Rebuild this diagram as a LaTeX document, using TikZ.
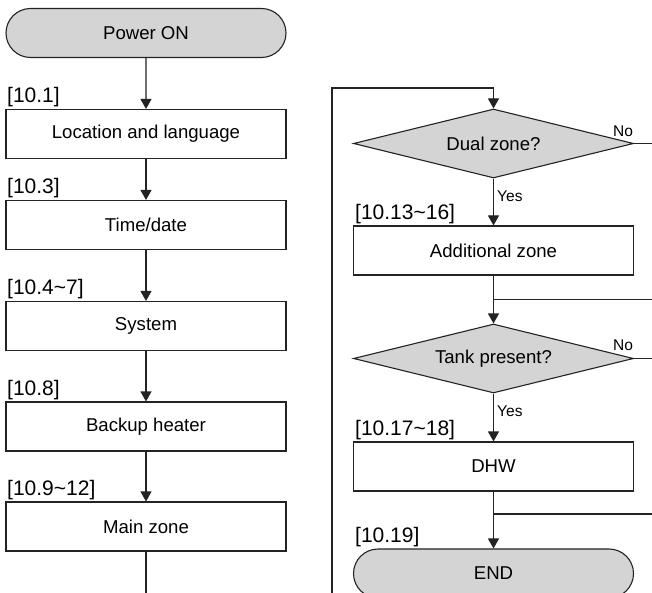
\documentclass[tikz,border=0pt]{standalone}
\usepackage{fontspec}
\setmainfont{Liberation Sans}
\usetikzlibrary{shapes.geometric,shapes.misc,arrows.meta,calc}
\definecolor{boxfill}{RGB}{212,212,212}
\definecolor{linec}{RGB}{35,35,35}
\begin{document}
\begin{tikzpicture}[x=1pt,y=-1pt,
  proc/.style={draw=linec, line width=1.1pt, rectangle, minimum width=280pt, minimum height=49pt, inner sep=0pt, font=\fontsize{18.6}{22}\selectfont},
  term/.style={proc, rounded rectangle, fill=boxfill},
  dec/.style={draw=linec, line width=1.1pt, diamond, fill=boxfill, shape aspect=4, minimum width=280pt, minimum height=69pt, inner sep=0pt, font=\fontsize{18.6}{22}\selectfont},
  refl/.style={font=\fontsize{21}{24}\selectfont, inner sep=0pt, anchor=base west},
  yn/.style={font=\fontsize{15.5}{18}\selectfont, inner sep=0pt, anchor=base west},
  flow/.style={draw=linec, line width=1.1pt, -{Triangle[width=11pt,length=10pt]}},
  conn/.style={draw=linec, line width=1.1pt}
]
\clip (0,0) rectangle (652,593);
\fill[white] (0,0) rectangle (652,593);

% left column
\node[term] (pon) at (146,33) {Power ON};
\node[proc] (b1) at (146,134) {Location and language};
\node[proc] (b2) at (146,225) {Time/date};
\node[proc] (b3) at (146,326) {System};
\node[proc] (b4) at (146,426.5) {Backup heater};
\node[proc] (b5) at (146,526.5) {Main zone};
\coordinate (lend) at (146,593);

\node[refl] (r1) at (7,102.5) {[10.1]};
\node[refl] (r2) at (7,193.5) {[10.3]};
\node[refl] (r3) at (7,294.5) {[10.4\textasciitilde 7]};
\node[refl] (r4) at (7,395) {[10.8]};
\node[refl] (r5) at (7,495) {[10.9\textasciitilde 12]};

\draw[flow] (pon) -- (b1);
\draw[flow] (b1) -- (b2);
\draw[flow] (b2) -- (b3);
\draw[flow] (b3) -- (b4);
\draw[flow] (b4) -- (b5);
\draw[conn] (b5) -- (lend);

% right column
\node[dec] (d1) at (493.5,143.5) {Dual zone?};
\node[proc] (add) at (493.5,250.5) {Additional zone};
\node[dec] (d2) at (493.5,358.5) {Tank present?};
\node[proc] (dhw) at (493.5,466.5) {DHW};
\node[term] (fin) at (493.5,573.5) {END};

\node[refl] (r6) at (355,219.5) {[10.13\textasciitilde 16]};
\node[refl] (r7) at (355,435.5) {[10.17\textasciitilde 18]};
\node[refl] (r8) at (355,542.5) {[10.19]};

\node[yn] (no1) at (613,137) {No};
\node[yn] (no2) at (613,350.5) {No};
\node[yn] (yes1) at (497,202) {Yes};
\node[yn] (yes2) at (497,416) {Yes};

\coordinate (lp0) at (332,593);
\coordinate (lpt) at (493.5,88);
\coordinate (n1e) at (652,143.5);
\coordinate (n2e) at (652,358.5);
\coordinate (j1) at (493.5,299.5);
\coordinate (j1e) at (652,299.5);
\coordinate (j2) at (493.5,514);
\coordinate (j2e) at (652,514);

\draw[flow] (lp0) |- (lpt) -- (d1.north);
\draw[conn] (d1.east) -- (n1e);
\draw[flow] (d1.south) -- (add.north);
\draw[flow] (add.south) -- (d2.north);
\draw[conn] (j1) -- (j1e);
\draw[conn] (d2.east) -- (n2e);
\draw[flow] (d2.south) -- (dhw.north);
\draw[flow] (dhw.south) -- (fin.north);
\draw[conn] (j2) -- (j2e);
\end{tikzpicture}
\end{document}
